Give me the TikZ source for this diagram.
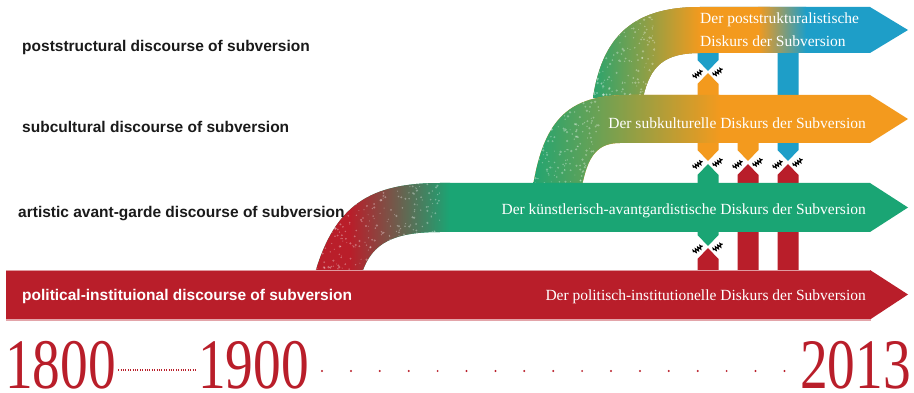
\documentclass[tikz,border=0pt]{standalone}
\usepackage{graphicx}
\usepackage{fontspec}
\setmainfont{Liberation Serif}
\newfontfamily\labelfont{Liberation Sans}
\usetikzlibrary{decorations.pathmorphing}
\definecolor{cred}{HTML}{B91E2A}
\definecolor{cgreen}{HTML}{1AA574}
\definecolor{corange}{HTML}{F39A1E}
\definecolor{cblue}{HTML}{1E9EC8}
\definecolor{ctext}{HTML}{1A1A1A}
\def\bandblue{(593,98) .. controls (603,30) and (640,7) .. (700,7) -- (870,7) -- (908,30) -- (870,53) -- (700,53) .. controls (665,53) and (650,65) .. (643,98) -- cycle}
\def\bandorange{(533,186) .. controls (545,112) and (575,95) .. (630,95) -- (870,95) -- (908,119) -- (870,143) -- (620,143) .. controls (598,143) and (588,155) .. (582,186) -- cycle}
\def\bandgreen{(315,273) .. controls (335,205) and (370,183) .. (440,183) -- (870,183) -- (908,207.5) -- (870,232) -- (440,232) .. controls (395,232) and (372,242) .. (362,273) -- cycle}
\def\bandred{(6,270) -- (870,270) -- (908,294.5) -- (870,319.5) -- (6,319.5) -- cycle}
\newcommand\stubdown[4]{\fill[#1] ({#2-10.5},#3) -- ({#2-10.5},{#4-11}) -- (#2,#4) -- ({#2+10.5},{#4-11}) -- ({#2+10.5},#3) -- cycle;}
\newcommand\stubup[4]{\fill[#1] ({#2-10.5},#3) -- ({#2-10.5},{#4+11}) -- (#2,#4) -- ({#2+10.5},{#4+11}) -- ({#2+10.5},#3) -- cycle;}
\newcommand\squig[2]{\draw[squigstyle] ({#1-4.5},{#2+3.2}) -- ({#1+4.5},{#2-3.2});}
\newcommand\speckle[5]{%
  \begin{scope}[fill opacity=0.33]
  \foreach \i in {1,...,#5}{%
    \pgfmathsetmacro\rx{#1+(#2-#1)*rnd}%
    \pgfmathsetmacro\ry{#3+(#4-#3)*rnd}%
    \pgfmathsetmacro\rr{0.5+0.8*rnd}%
    \fill[white] (\rx,\ry) circle (\rr pt);
  }
  \end{scope}}
\begin{document}
\begin{tikzpicture}[x=1pt,y=-1pt,
  lefttext/.style={anchor=base west, inner sep=0, font=\labelfont\bfseries\fontsize{15.5}{18}\selectfont, text=ctext},
  bandtext/.style={inner sep=0, font=\fontsize{15.5}{20}\selectfont, text=white},
  year/.style={inner sep=0, text=cred, font=\fontsize{71}{71}\selectfont},
  squigstyle/.style={draw=black, line width=1.15pt, decorate, decoration={zigzag, segment length=2.8pt, amplitude=1.7pt}},
  densedots/.style={draw=cred, line width=1.7pt, dash pattern=on 0.9pt off 1.5pt},
]
\useasboundingbox (0,0) rectangle (914,393);
\fill[white] (0,0) rectangle (914,393);
\pgfmathsetseed{12}

% vertical connectors (under bands)
\stubdown{cblue}{708}{50}{71}
\stubup{corange}{708}{98}{73}
\stubdown{cblue}{788}{50}{161}
\stubdown{corange}{708}{140}{161}
\stubdown{corange}{748}{140}{161}
\stubup{cgreen}{708}{186}{164}
\stubup{cred}{748}{273}{164}
\stubup{cred}{788}{273}{164}
\stubdown{cgreen}{708}{229}{246}
\stubup{cred}{708}{273}{248}

% blue band
\fill[cblue] \bandblue;
\begin{scope}
  \clip \bandblue;
  \fill[corange] (580,0) rectangle (770,100);
  \shade[left color=cgreen, right color=corange] (585,0) rectangle (700,100);
  \shade[left color=corange, right color=cblue] (758,0) rectangle (806,100);
  \clip (585,0) rectangle (655,98);
  \speckle{585}{655}{0}{98}{220}
\end{scope}

% orange band
\fill[corange] \bandorange;
\begin{scope}
  \clip \bandorange;
  \shade[left color=cgreen, right color=corange] (525,90) rectangle (720,190);
  \clip (525,90) rectangle (600,186);
  \speckle{525}{600}{90}{186}{260}
\end{scope}

% green band
\fill[cgreen] \bandgreen;
\begin{scope}
  \clip \bandgreen;
  \fill[cred] (300,175) rectangle (350,275);
  \shade[left color=cred, right color=cgreen] (350,180) rectangle (450,275);
  \clip (305,178) rectangle (440,273);
  \speckle{305}{440}{178}{273}{380}
\end{scope}

% red band
\fill[cred] \bandred;
\draw[cred!45, line width=1pt] (6,270.3) -- (870,270.3);
\draw[cred!40, line width=1.6pt] (6,319.8) -- (871,319.8);

% tension marks
\squig{698}{74}\squig{718}{72}
\squig{698}{164.5}\squig{718}{162.5}
\squig{738}{164.5}\squig{758}{162.5}
\squig{778}{164.5}\squig{798}{162.5}
\squig{698}{249}\squig{718}{247}

% band texts
\node[bandtext, anchor=base west] (tb1) at (700,24) {Der poststrukturalistische};
\node[bandtext, anchor=base west] (tb2) at (700,46.5) {Diskurs der Subversion};
\node[bandtext, anchor=base east] (to) at (866,129) {Der subkulturelle Diskurs der Subversion};
\node[bandtext, anchor=base east] (tg) at (866,214.5) {Der künstlerisch-avantgardistische Diskurs der Subversion};
\node[bandtext, anchor=base east] (tr) at (866,301) {Der politisch-institutionelle Diskurs der Subversion};

% left labels
\node[lefttext] (l1) at (22,52) {poststructural discourse of subversion};
\node[lefttext] (l2) at (22,133) {subcultural discourse of subversion};
\node[lefttext] (l3) at (18,218) {artistic avant-garde discourse of subversion};
\node[lefttext, text=white] (l4) at (22,300.5) {political-instituional discourse of subversion};

% timeline
\node[year, anchor=base west] (y1800) at (5,388.5) {\scalebox{0.78}[1]{1800}};
\node[year, anchor=base west] (y1900) at (198,388.5) {\scalebox{0.78}[1]{1900}};
\node[year, anchor=base east] (y2013) at (911,388.5) {\scalebox{0.78}[1]{2013}};
\draw[densedots] ([xshift=2pt,yshift=-5pt]y1800.east) -- ([xshift=-2pt,yshift=-5pt]y1900.west);
\foreach \k in {0,...,16}{\fill[cred] ({322+28.9*\k},371) circle (1.1pt);}
\end{tikzpicture}
\end{document}
